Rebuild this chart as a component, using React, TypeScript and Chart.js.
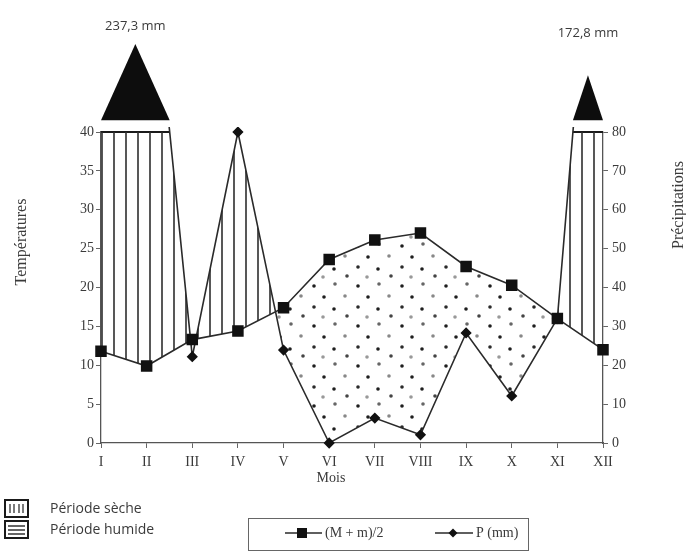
import { useEffect, useRef } from 'react';
import { Chart, registerables } from 'chart.js';

Chart.register(...registerables);

// ---- data ----
const months = ['I', 'II', 'III', 'IV', 'V', 'VI', 'VII', 'VIII', 'IX', 'X', 'XI', 'XII'];
const tempMean = [11.8, 9.9, 13.3, 14.4, 17.4, 23.6, 26.1, 27.0, 22.7, 20.3, 16.0, 12.0];
const precip = [237.3, 139, 22.2, 80, 23.9, 0, 6.4, 2.1, 28.3, 12.1, 32, 172.8];
const tempAxisMax = 40;
const precipAxisMax = 80;
const tempStep = 5;
const precipStep = 10;
const seriesLabels = ['(M + m)/2', 'P (mm)'];
const periodLabels = ['Période sèche', 'Période humide'];
const tempTitle = 'Températures';
const precipTitle = 'Précipitations';
const monthTitle = 'Mois';
// compressed scale used for the part of P above the axis maximum
const overflowCompression = 8;

// ---- style ----
const SERIF = '"Liberation Serif", "DejaVu Serif", serif';
const SANS = '"Open Sans", "Liberation Sans", sans-serif';
const TEXT = '#3a3a3a';
const LINE = '#2a2a2a';
const peakLabelTop = [26, 33];

type Run = { start: number; end: number; peak: number };

function overflowRuns(values: number[], limit: number): Run[] {
  const runs: Run[] = [];
  const n = values.length;
  let i = 0;
  while (i < n) {
    if (values[i] > limit) {
      let j = i;
      while (j + 1 < n && values[j + 1] > limit) j++;
      const start = i === 0 ? 1 : i + (limit - values[i - 1]) / (values[i] - values[i - 1]);
      const end = j === n - 1 ? n : j + 1 + (values[j] - limit) / (values[j] - values[j + 1]);
      let peak = -Infinity;
      for (let k = i; k <= j; k++) peak = Math.max(peak, values[k]);
      runs.push({ start, end, peak });
      i = j + 1;
    } else i++;
  }
  return runs;
}

function makeHatch(): CanvasPattern | string {
  const c = document.createElement('canvas');
  c.width = 12;
  c.height = 12;
  const g = c.getContext('2d');
  if (!g) return '#999';
  g.strokeStyle = '#2e2e2e';
  g.lineWidth = 1.6;
  g.beginPath();
  g.moveTo(6, 0);
  g.lineTo(6, 12);
  g.stroke();
  return g.createPattern(c, 'repeat') || '#999';
}

function makeDots(): CanvasPattern | string {
  const c = document.createElement('canvas');
  c.width = 44;
  c.height = 40;
  const g = c.getContext('2d');
  if (!g) return '#ccc';
  const dots: [number, number, string][] = [
    [6, 6, '#1e1e1e'], [27, 4, '#666'], [16, 17, '#1e1e1e'], [37, 16, '#888'],
    [6, 27, '#2a2a2a'], [26, 29, '#1e1e1e'], [39, 36, '#444'], [15, 37, '#999'],
  ];
  for (const [x, y, col] of dots) {
    g.fillStyle = col;
    g.beginPath();
    g.arc(x, y, 1.8, 0, Math.PI * 2);
    g.fill();
  }
  return g.createPattern(c, 'repeat') || '#ccc';
}

export default function App() {
  const ref = useRef<HTMLCanvasElement | null>(null);

  useEffect(() => {
    if (!ref.current) return;
    const hatch = makeHatch();
    const dots = makeDots();
    const runs = overflowRuns(precip, precipAxisMax);

    const capData: { x: number; y: number | null }[] = [];
    runs.forEach((r, k) => {
      if (k > 0) capData.push({ x: (runs[k - 1].end + r.start) / 2, y: null });
      capData.push({ x: r.start, y: precipAxisMax });
      capData.push({ x: r.end, y: precipAxisMax });
    });

    const decor = {
      id: 'decor',
      afterDraw(chart: any) {
        const ctx = chart.ctx as CanvasRenderingContext2D;
        const xs = chart.scales.x;
        const y2 = chart.scales.y2;
        ctx.save();
        // overflow triangles (compressed scale) + peak labels
        runs.forEach((r, k) => {
          const baseV = precipAxisMax + 3;
          const apexV = baseV + (r.peak - precipAxisMax) / overflowCompression;
          const x0 = xs.getPixelForValue(r.start);
          const x1 = xs.getPixelForValue(r.end);
          const xm = xs.getPixelForValue((r.start + r.end) / 2);
          const yb = y2.getPixelForValue(baseV);
          const ya = y2.getPixelForValue(apexV);
          ctx.fillStyle = '#0d0d0d';
          ctx.beginPath();
          ctx.moveTo(x0, yb);
          ctx.lineTo(xm, ya);
          ctx.lineTo(x1, yb);
          ctx.closePath();
          ctx.fill();
          ctx.fillStyle = TEXT;
          ctx.font = `13px ${SANS}`;
          ctx.textAlign = 'center';
          ctx.textBaseline = 'middle';
          ctx.fillText(r.peak.toFixed(1).replace('.', ',') + ' mm', xm, peakLabelTop[k] ?? ya - 20);
        });

        // axis titles
        ctx.fillStyle = TEXT;
        ctx.font = `16px ${SERIF}`;
        ctx.textAlign = 'center';
        ctx.textBaseline = 'middle';
        ctx.save();
        ctx.translate(22, 242);
        ctx.rotate(-Math.PI / 2);
        ctx.fillText(tempTitle, 0, 0);
        ctx.restore();
        ctx.save();
        ctx.translate(679, 205);
        ctx.rotate(-Math.PI / 2);
        ctx.fillText(precipTitle, 0, 0);
        ctx.restore();
        ctx.font = `14px ${SERIF}`;
        ctx.fillText(monthTitle, 331, 478);

        // period legend (left)
        const boxes = [
          { y: 500, label: periodLabels[0], kind: 'dry' },
          { y: 521, label: periodLabels[1], kind: 'wet' },
        ];
        for (const b of boxes) {
          ctx.strokeStyle = '#1a1a1a';
          ctx.lineWidth = 2;
          ctx.strokeRect(5, b.y, 23, 17);
          ctx.strokeStyle = '#333';
          ctx.lineWidth = 1.3;
          ctx.beginPath();
          if (b.kind === 'dry') {
            for (const x of [10, 14, 19, 23]) {
              ctx.moveTo(x, b.y + 4);
              ctx.lineTo(x, b.y + 13);
            }
          } else {
            for (const yy of [5, 9, 13]) {
              ctx.moveTo(8, b.y + yy);
              ctx.lineTo(25, b.y + yy);
            }
          }
          ctx.stroke();
          ctx.fillStyle = TEXT;
          ctx.font = `14px ${SANS}`;
          ctx.textAlign = 'left';
          ctx.textBaseline = 'middle';
          ctx.fillText(b.label, 50, b.y + 9);
        }

        // series legend (box)
        ctx.strokeStyle = '#666';
        ctx.lineWidth = 1;
        ctx.strokeRect(248.5, 518.5, 280, 32);
        const ly = 533;
        const items = [
          { x0: 285, xm: 302, x1: 322, style: 'rect', label: seriesLabels[0] },
          { x0: 435, xm: 453, x1: 473, style: 'rectRot', label: seriesLabels[1] },
        ];
        for (const it of items) {
          ctx.strokeStyle = LINE;
          ctx.lineWidth = 1.5;
          ctx.beginPath();
          ctx.moveTo(it.x0, ly);
          ctx.lineTo(it.x1, ly);
          ctx.stroke();
          ctx.fillStyle = '#111';
          ctx.beginPath();
          if (it.style === 'rect') {
            ctx.rect(it.xm - 5, ly - 5, 10, 10);
          } else {
            ctx.moveTo(it.xm, ly - 4.5);
            ctx.lineTo(it.xm + 4.5, ly);
            ctx.lineTo(it.xm, ly + 4.5);
            ctx.lineTo(it.xm - 4.5, ly);
            ctx.closePath();
          }
          ctx.fill();
          ctx.fillStyle = TEXT;
          ctx.font = `14px ${SERIF}`;
          ctx.textAlign = 'left';
          ctx.textBaseline = 'middle';
          ctx.fillText(it.label, it.x1 + 3, ly);
        }
        ctx.restore();
      },
    };

    const tickFont = { family: SERIF, size: 14 };

    const chart = new Chart(ref.current, {
      type: 'line',
      data: {
        datasets: [
          {
            label: seriesLabels[0],
            data: tempMean.map((v, i) => ({ x: i + 1, y: v })),
            yAxisID: 'y',
            borderColor: LINE,
            borderWidth: 1.6,
            pointStyle: 'rect',
            pointRadius: 7,
            pointBackgroundColor: '#111',
            pointBorderColor: '#111',
            tension: 0,
            fill: false,
            clip: false,
          },
          {
            label: seriesLabels[1],
            data: precip.map((v, i) => ({ x: i + 1, y: v })),
            yAxisID: 'y2',
            borderColor: LINE,
            borderWidth: 1.6,
            pointStyle: 'rectRot',
            pointRadius: 4.5,
            pointBackgroundColor: '#111',
            pointBorderColor: '#111',
            tension: 0,
            fill: { target: 0, above: hatch as any, below: dots as any },
            clip: { left: 10, right: 10, top: 5, bottom: 10 } as any,
          },
          {
            label: 'cap',
            data: capData,
            yAxisID: 'y2',
            borderColor: '#1a1a1a',
            borderWidth: 2,
            pointRadius: 0,
            spanGaps: false,
            fill: false,
            clip: { left: 10, right: 10, top: 2, bottom: 10 } as any,
          },
        ],
      },
      options: {
        responsive: false,
        animation: false,
        layout: { padding: { top: 132, left: 0, right: 0, bottom: 0 } },
        plugins: { legend: { display: false }, tooltip: { enabled: false } },
        scales: {
          x: {
            type: 'linear',
            min: 1,
            max: months.length,
            afterFit: (s: any) => { s.height = 111; },
            ticks: {
              stepSize: 1,
              callback: (v: any) => months[Number(v) - 1] ?? '',
              font: tickFont,
              color: TEXT,
              padding: 6,
              maxRotation: 0,
              autoSkip: false,
            },
            grid: { drawOnChartArea: false, drawTicks: true, tickLength: 5, color: '#666' },
            border: { color: '#555', width: 1.3 },
          },
          y: {
            position: 'left',
            min: 0,
            max: tempAxisMax,
            afterFit: (s: any) => { s.width = 101; },
            ticks: { stepSize: tempStep, font: tickFont, color: TEXT, padding: 2 },
            grid: { drawOnChartArea: false, drawTicks: true, tickLength: 5, color: '#666' },
            border: { color: '#555', width: 1.3 },
          },
          y2: {
            position: 'right',
            min: 0,
            max: precipAxisMax,
            afterFit: (s: any) => { s.width = 83; },
            ticks: { stepSize: precipStep, font: tickFont, color: TEXT, padding: 4 },
            grid: { drawOnChartArea: false, drawTicks: true, tickLength: 5, color: '#666' },
            border: { color: '#555', width: 1.3 },
          },
        },
      },
      plugins: [decor],
    });
    return () => chart.destroy();
  }, []);

  return (
    <div style={{ position: 'absolute', left: 0, top: 0, width: 686, height: 554, background: '#fff' }}>
      <canvas ref={ref} width={686} height={554} />
    </div>
  );
}
